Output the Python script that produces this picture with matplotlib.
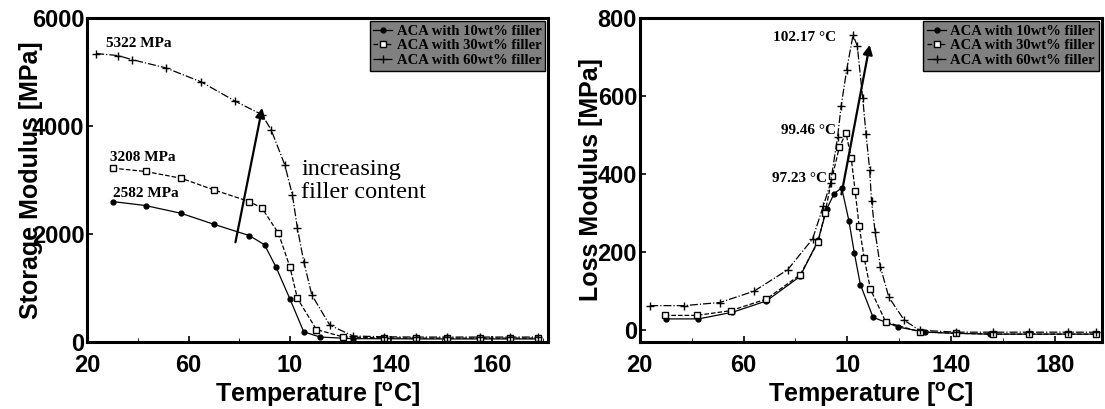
import matplotlib
matplotlib.use("Agg")
import matplotlib.pyplot as plt

# storage modulus (left panel)
t10_s = [30, 43, 57, 70, 84, 90, 94.6, 100, 105.5, 112, 125, 137, 150, 162, 175, 187, 198]
e10_s = [2600, 2526, 2383, 2179, 1970, 1800, 1380, 800, 186, 90, 60, 60, 55, 55, 55, 55, 55]
t30_s = [30, 43, 57, 70, 84, 89, 95.5, 100, 103, 110.5, 121, 137, 150, 162, 175, 187, 198]
e30_s = [3219, 3157, 3033, 2816, 2600, 2480, 2012, 1393, 805, 230, 93, 75, 70, 70, 70, 70, 70]
t60_s = [23.5, 32, 37.6, 51, 65, 78.5, 89, 92.6, 98, 101, 103, 105.5, 108.7, 115.8, 125, 137, 150, 162, 175, 187, 198]
e60_s = [5342, 5305, 5230, 5076, 4816, 4457, 4209, 3930, 3280, 2724, 2105, 1486, 867, 310, 110, 95, 90, 90, 90, 90, 90]

# loss modulus (right panel)
t10_l = [30, 42.6, 55.7, 68.8, 81.8, 88.7, 92, 94.9, 97.8, 100.6, 102.7, 105, 109.9, 119.6, 130, 142, 155, 170, 185, 196]
e10_l = [29, 29, 46, 75, 138, 230, 310, 350, 365, 280, 197, 117, 33, 8, -5, -8, -10, -10, -10, -10]
t30_l = [29.6, 42, 55, 68.8, 81.8, 88.7, 91.4, 94.2, 96.9, 99.46, 101.5, 103, 104.5, 106.5, 108.9, 114.8, 127.8, 142, 156, 170, 185, 196]
e30_l = [38, 38, 50, 80, 142, 226, 301, 394, 469, 505, 440, 356, 268, 184, 105, 21, -4, -8, -10, -10, -10, -10]
t60_l = [24, 37, 50.9, 64, 77, 86.6, 90.7, 93.5, 96.2, 97.6, 99.7, 102.17, 103.8, 105.9, 107.2, 108.6, 109.3, 110.7, 112.7, 116, 122, 127.8, 142, 156, 170, 185, 196]
e60_l = [63, 63, 71, 100, 155, 234, 318, 377, 494, 574, 666, 756, 729, 595, 502, 410, 331, 251, 163, 84, 25, 0, -5, -5, -5, -5, -5]

labels = ["ACA with 10wt% filler", "ACA with 30wt% filler", "ACA with 60wt% filler"]

sans = "Liberation Sans"
serif = "Liberation Serif"

fig = plt.figure(figsize=(11.05, 4.09), dpi=100)
ax1 = fig.add_axes([0.079, 0.164, 0.417, 0.792])
ax2 = fig.add_axes([0.579, 0.164, 0.418, 0.792])


def style_axes(ax):
    for s in ax.spines.values():
        s.set_linewidth(2.2)
    ax.tick_params(direction="in", length=4, width=1.2)
    ax.tick_params(axis="x", pad=9)
    ax.tick_params(axis="y", pad=2)
    for lab in ax.get_xticklabels() + ax.get_yticklabels():
        lab.set_fontfamily(sans)
        lab.set_fontweight("bold")
        lab.set_fontsize(17)
    ax.set_xlabel("Temperature [$^\\mathregular{o}$C]", fontfamily=sans,
                  fontweight="bold", fontsize=18, labelpad=2)


def add_series(ax, data):
    (ta, ea), (tb, eb), (tc, ec) = data
    ax.plot(ta, ea, color="black", lw=0.9, ls="-", marker="o", ms=3.5,
            mfc="black", label=labels[0])
    ax.plot(tb, eb, color="black", lw=0.9, ls="--", marker="s", ms=4,
            mfc="white", label=labels[1])
    ax.plot(tc, ec, color="black", lw=0.9, ls="-.", marker="+", ms=6,
            label=labels[2])
    leg = ax.legend(loc="upper right", frameon=True, fancybox=False,
                    borderpad=0.25, labelspacing=0.1, handlelength=1.3,
                    handletextpad=0.3, borderaxespad=0.2,
                    prop={"family": serif, "weight": "bold", "size": 10.5})
    leg.get_frame().set_facecolor("0.5")
    leg.get_frame().set_edgecolor("black")
    leg.get_frame().set_alpha(1)


# left: storage modulus
add_series(ax1, [(t10_s, e10_s), (t30_s, e30_s), (t60_s, e60_s)])
ax1.set_xlim(20, 202)
ax1.set_ylim(0, 6000)
ax1.set_xticks([20, 60, 100, 140, 180])
ax1.set_xticklabels(["20", "60", "10", "140", "160"])
ax1.set_xticks(range(20, 202, 20), minor=True)
ax1.tick_params(which="minor", direction="in", length=3)
ax1.set_yticks([0, 2000, 4000, 6000])
style_axes(ax1)
ax1.set_ylabel("Storage Modulus [MPa]", fontfamily=sans, fontweight="bold",
               fontsize=18, labelpad=-8)

ax1.text(27.5, 5530, "5322 MPa", va="center", fontfamily=serif,
         fontweight="bold", fontsize=11)
ax1.text(29, 3420, "3208 MPa", va="center", fontfamily=serif,
         fontweight="bold", fontsize=11)
ax1.text(30.3, 2750, "2582 MPa", va="center", fontfamily=serif,
         fontweight="bold", fontsize=11)
ax1.annotate("", xy=(89.3, 4385), xytext=(78.3, 1795),
             arrowprops=dict(arrowstyle="-|>", color="black", lw=1.6,
                             mutation_scale=14))
ax1.text(104.6, 2980, "increasing\nfiller content", va="center",
         fontfamily=serif, fontsize=17.5, linespacing=1.15)

# right: loss modulus
add_series(ax2, [(t10_l, e10_l), (t30_l, e30_l), (t60_l, e60_l)])
ax2.set_xlim(20, 198)
ax2.set_ylim(-30, 800)
ax2.set_xticks([20, 60, 100, 140, 180])
ax2.set_xticklabels(["20", "60", "10", "140", "180"])
ax2.set_xticks(range(20, 198, 20), minor=True)
ax2.tick_params(which="minor", direction="in", length=3)
ax2.set_yticks([0, 200, 400, 600, 800])
style_axes(ax2)
ax2.set_ylabel("Loss Modulus [MPa]", fontfamily=sans, fontweight="bold",
               fontsize=18, labelpad=-4)

ax2.text(95.6, 751, "102.17 \u00b0C", ha="right", va="center",
         fontfamily=serif, fontweight="bold", fontsize=11)
ax2.text(95.5, 513, "99.46 \u00b0C", ha="right", va="center",
         fontfamily=serif, fontweight="bold", fontsize=11)
ax2.text(92, 390, "97.23 \u00b0C", ha="right", va="center",
         fontfamily=serif, fontweight="bold", fontsize=11)
ax2.annotate("", xy=(108.8, 738), xytext=(97.5, 341),
             arrowprops=dict(arrowstyle="-|>", color="black", lw=1.6,
                             mutation_scale=14))

fig.savefig("out.png", dpi=100)
